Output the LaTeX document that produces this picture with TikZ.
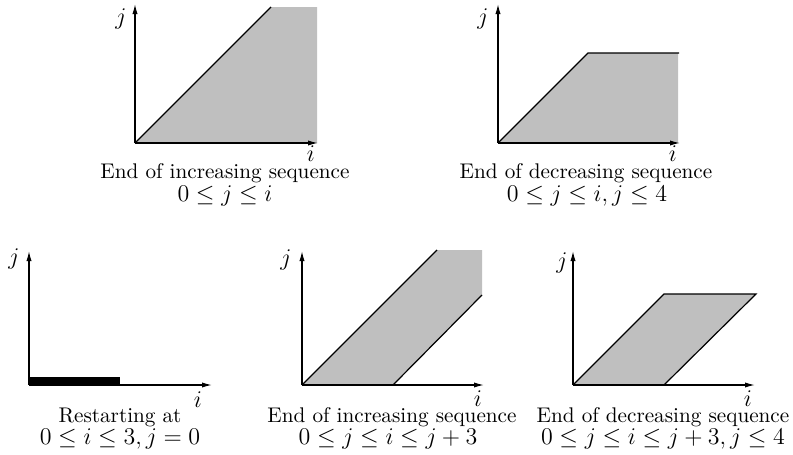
\documentclass[tikz,border=0pt]{standalone}
\usetikzlibrary{arrows.meta}
\tikzset{
  axis/.style={line width=0.6pt,-{Latex[length=5pt,width=2.6pt]}},
  region/.style={fill=black!25,draw=none},
  edge/.style={line width=0.6pt},
  lbl/.style={inner sep=0pt,anchor=center,font=\fontsize{11.5}{13}\selectfont},
  captext/.style={inner sep=0pt,anchor=base,font=\fontsize{10.6}{12}\selectfont},
  frm/.style={inner sep=0pt,anchor=base,font=\fontsize{12.9}{15}\selectfont},
}
\begin{document}
\begin{tikzpicture}[x=0.5pt,y=-0.5pt]
\useasboundingbox (0,0) rectangle (793,455);
% ---------- panel 1
\coordinate (o1) at (135,143);
\coordinate (y1) at (135,4);
\coordinate (x1) at (318,143);
\fill[region] (o1) -- (271,7) -- (317,7) -- (317,143) -- cycle;
\draw[edge] (o1) -- (271,7);
\draw[axis] (o1) -- (y1);
\draw[axis] (o1) -- (x1);
\node[lbl] (j1) at (121,19) {$j$};
\node[lbl] (i1) at (311,154) {$i$};
\node[captext] (t1) at (225,178) {End of increasing sequence};
\node[frm] (m1) at (225,201) {$0\leq j\leq i$};
% ---------- panel 2
\coordinate (o2) at (498,143);
\coordinate (y2) at (498,4);
\coordinate (x2) at (680,143);
\fill[region] (o2) -- (588,53) -- (678,53) -- (678,143) -- cycle;
\draw[edge] (o2) -- (588,53) -- (679,53);
\draw[axis] (o2) -- (y2);
\draw[axis] (o2) -- (x2);
\node[lbl] (j2) at (483,19) {$j$};
\node[lbl] (i2) at (673,154) {$i$};
\node[captext] (t2) at (586,178) {End of decreasing sequence};
\node[frm] (m2) at (587,201) {$0\leq j\leq i, j\leq 4$};
% ---------- panel 3
\coordinate (o3) at (29,385);
\coordinate (y3) at (29,251);
\coordinate (x3) at (212,385);
\fill[black] (29,377) rectangle (120,386);
\draw[axis] (o3) -- (y3);
\draw[axis] (o3) -- (x3);
\node[lbl] (j3) at (14,259) {$j$};
\node[lbl] (i3) at (198,400) {$i$};
\node[captext] (t3) at (120,422) {Restarting at};
\node[frm] (m3) at (120,444) {$0\leq i\leq 3, j=0$};
% ---------- panel 4
\coordinate (o4) at (302,385);
\coordinate (y4) at (302,251);
\coordinate (x4) at (484,385);
\fill[region] (o4) -- (437,250) -- (482,250) -- (482,295) -- (393,385) -- cycle;
\draw[edge] (o4) -- (437,250);
\draw[edge] (393,385) -- (482,295);
\draw[axis] (o4) -- (y4);
\draw[axis] (o4) -- (x4);
\node[lbl] (j4) at (286,260) {$j$};
\node[lbl] (i4) at (478,399) {$i$};
\node[captext] (t4) at (392,422) {End of increasing sequence};
\node[frm] (m4) at (388,444) {$0\leq j\leq i\leq j+3$};
% ---------- panel 5
\coordinate (o5) at (573,385);
\coordinate (y5) at (573,251);
\coordinate (x5) at (755,385);
\fill[region] (o5) -- (664,294) -- (756,294) -- (664,385) -- cycle;
\draw[edge] (o5) -- (664,294) -- (756,294) -- (664,385);
\draw[axis] (o5) -- (y5);
\draw[axis] (o5) -- (x5);
\node[lbl] (j5) at (562,263) {$j$};
\node[lbl] (i5) at (748,399) {$i$};
\node[captext] (t5) at (663,422) {End of decreasing sequence};
\node[frm] (m5) at (663,444) {$0\leq j\leq i\leq j+3, j\leq 4$};
\end{tikzpicture}
\end{document}
